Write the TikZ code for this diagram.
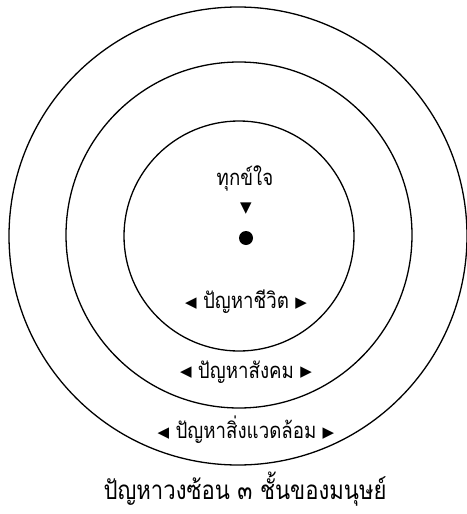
\documentclass[tikz,border=0pt]{standalone}
\usepackage{fontspec}
\newfontfamily\thaifont[Script=Thai, FakeStretch=0.85]{Loma}
\newfontfamily\symfont{DejaVu Sans}
\usetikzlibrary{positioning}
\newcommand{\lefttip}{\raisebox{1.5pt}{\symfont\fontsize{15}{17}\selectfont ◀}}
\newcommand{\righttip}{\raisebox{1.5pt}{\symfont\fontsize{15}{17}\selectfont ▶}}

\begin{document}
\begin{tikzpicture}[
    x=1pt, y=-1pt,
    ring/.style={draw, circle, line width=1.3pt, inner sep=0pt},
    layertext/.style={font=\thaifont\fontsize{22}{26}\selectfont, inner sep=1pt},
    pointer/.style={font=\symfont\fontsize{15}{17}\selectfont, inner sep=0pt},
    caption/.style={font=\thaifont\fontsize{26}{30}\selectfont, inner sep=1pt}
]
\useasboundingbox (0,0) rectangle (466,514);

% Rings: life, society, environment
\node[ring, minimum size=230pt] (life) at (239,236) {};
\node[ring, minimum size=346pt] (society) at (239,235) {};
\node[ring, minimum size=458pt] (environment) at (238,236) {};

% Centre: the heart
\node[layertext] (suffering) at (245,178) {ทุกข์ใจ};
\node[pointer] (down) at (246,209) {▼};
\node[circle, fill, minimum size=14pt, inner sep=0pt] (heart) at (246,238) {};

% Ring labels
\node[layertext] (lifetext) at (246,302) {\lefttip~ปัญหาชีวิต~\righttip};
\node[layertext] (societytext) at (246,372) {\lefttip~ปัญหาสังคม~\righttip};
\node[layertext] (envtext) at (246,430) {\lefttip~ปัญหาสิ่งแวดล้อม~\righttip};

% Caption
\node[caption] (title) at (245,489) {ปัญหาวงซ้อน ๓ ชั้นของมนุษย์};

\end{tikzpicture}
\end{document}
